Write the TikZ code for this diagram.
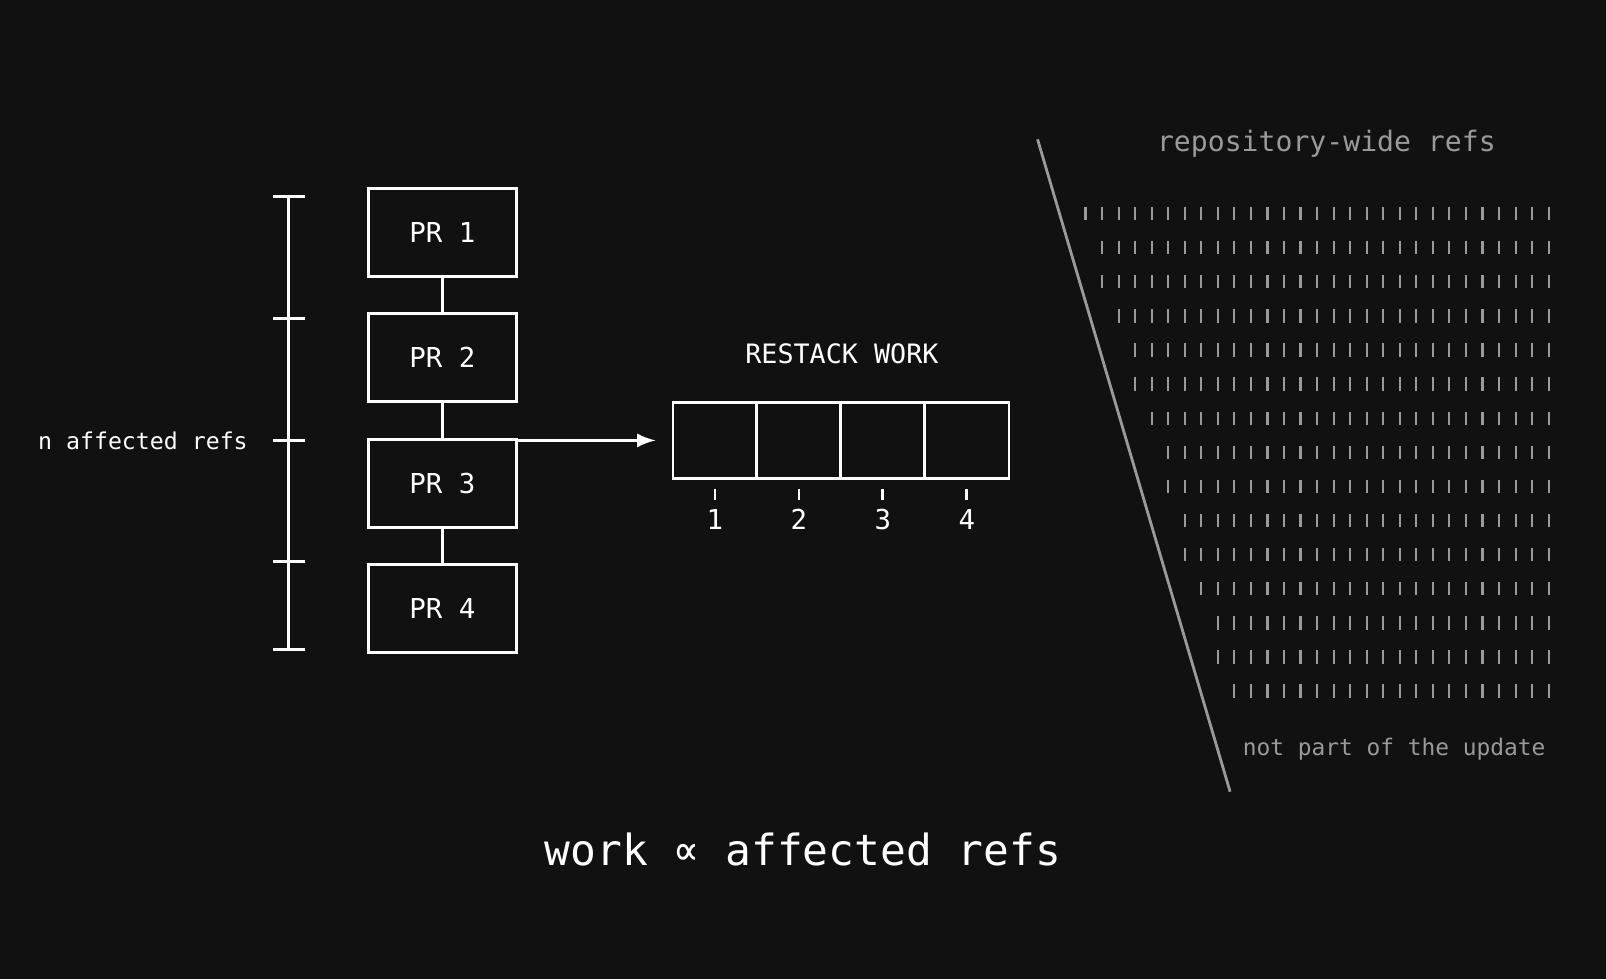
\documentclass[tikz,border=0pt]{standalone}
\usepackage{fontspec}
\setmonofont{DejaVu Sans Mono}
\usetikzlibrary{positioning, calc}
\definecolor{bg}{HTML}{111111}
\definecolor{dim}{HTML}{9A9A9A}
\begin{document}
\begin{tikzpicture}
        [
            x=0.01024cm, y=-0.01024cm,
            every node/.style={text=white, font=\ttfamily},
            cell/.style={draw=white, line width=0.8pt, minimum width=0.84cm, minimum height=0.76cm, inner sep=0pt},
            link/.style={draw=white, line width=0.8pt},
            faint/.style={text=dim, font=\ttfamily\fontsize{6.5}{8}\selectfont}
        ]
        \fill [bg] (0,0) rectangle (1568,956);
        \useasboundingbox (0,0) rectangle (1568,956);
        % stack of PRs
        \foreach \i/\y in {1/227,2/349,3/472,4/594}
            \node (pr\i) [draw=white, line width=0.8pt, minimum width=1.485cm, minimum height=0.88cm,
                          font=\ttfamily\fontsize{7.8}{9}\selectfont] at (432,\y) {PR \i};
        \foreach \i/\j in {1/2,2/3,3/4}
            \draw [link] (pr\i) -- (pr\j);
        % bracket
        \coordinate (btop) at (282,192);
        \coordinate (bbot) at (282,634);
        \draw [link] (btop) -- (bbot);
        \foreach \y in {192,311,430,548,634}
            \draw [link] (267,\y) -- (298,\y);
        \node (naff) [anchor=east, font=\ttfamily\fontsize{6.6}{8}\selectfont] at (254,430) {n affected refs};
        % restack work
        \foreach \i in {1,...,4}
            \node (c\i) [cell] at ({657+82*(\i-0.5)},430) {};
        \coordinate (tgt) at (640,430);
        \draw [link, -latex] (pr3.east |- tgt) -- (tgt);
        \foreach \i in {1,...,4} {
            \draw [link] ($(c\i.south)+(0,9)$) -- ++(0,11);
            \node (n\i) [font=\ttfamily\fontsize{7.8}{9}\selectfont] at ($(c\i.south)+(0,39)$) {\i};
        }
        \node (title) [font=\ttfamily\fontsize{7.6}{9}\selectfont] at (822,345) {RESTACK WORK};
        % repository-wide refs
        \coordinate (ltop) at (1013,136);
        \coordinate (lbot) at (1201,773);
        \draw [dim, line width=0.8pt] (ltop) -- (lbot);
        \node (repo) [faint, font=\ttfamily\fontsize{8}{9}\selectfont] at (1295,140) {repository-wide refs};
        \foreach \k in {0,...,14} {
            \pgfmathsetmacro{\yy}{208+33.3*\k}
            \pgfmathtruncatemacro{\nb}{floor((1512-(1013+(\yy-136)*0.2951)-22)/16.15)}
            \foreach \j in {0,...,\nb}
                \draw [dim, line width=0.6pt] ({1512-16.15*\j},\yy-6) -- ++(0,13);
        }
        \node (notpart) [faint, anchor=east] at (1521,731) {not part of the update};
        \node (work) [font=\ttfamily\fontsize{12.2}{14}\selectfont] at (784,829) {work ∝ affected refs};
\end{tikzpicture}
\end{document}
